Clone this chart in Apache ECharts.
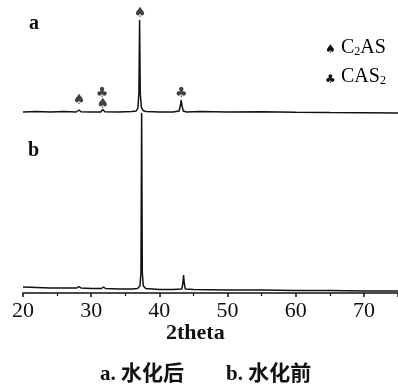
<!DOCTYPE html>
<html>
<head>
<meta charset="utf-8">
<script src="https://cdn.jsdelivr.net/npm/echarts@6/dist/echarts.min.js"></script>
<style>
html,body{margin:0;padding:0;background:#fff;}
#chart{width:398px;height:391px;}
</style>
</head>
<body>
<div id="chart"></div>
<script>
// x-axis ticks
var xTicks = [20, 30, 40, 50, 60, 70];
// Pattern a (after hydration), offset upward; [2theta, intensity]
var patternA = [
  [20,181],[22,181.5],[24,181],[26,181.5],[27.8,181],[28.2,183],[28.5,181.2],[30,181],
  [31.4,181],[31.7,183.5],[32,181.2],[34,181],[36,181.5],[36.6,182],[36.85,185],
  [37.0,200],[37.1,273],[37.2,200],[37.35,186],[37.6,182.5],[38,181.5],[40,181],
  [42,181],[42.9,182],[43.1,188],[43.2,193],[43.3,188],[43.5,182],[44,181],[46,181.5],
  [50,181],[55,181.2],[60,180.8],[65,180.5],[70,180.3],[75,180]
];
// Pattern b (before hydration)
var patternB = [
  [20,6],[22,5.5],[24,5],[26,5],[27.9,5],[28.2,6.5],[28.5,5],[30,4.5],[31.5,4.5],
  [31.8,6],[32.1,4.5],[34,4],[36,4],[36.8,4.5],[37.15,7],[37.3,20],[37.4,180],
  [37.5,20],[37.65,7],[38,4.5],[40,3.5],[42,3.5],[43.3,4],[43.45,10],[43.55,18],
  [43.65,10],[43.8,4],[45,3.5],[50,3],[55,3],[60,2.5],[65,2.5],[70,2],[75,2]
];
// Phase markers: [2theta, height, glyph]
var markers = [
  [28.2, 193, '\u2660'],
  [31.6, 200, '\u2663'],
  [31.7, 189, '\u2660'],
  [37.15, 280, '\u2660'],
  [43.2, 200, '\u2663']
];
var legendItems = [
  ['\u2660', 'C', '2', 'AS'],
  ['\u2663', 'CAS', '2', '']
];
var patternLabels = ['a', 'b'];
var xName = '2theta';
var captions = ['a. 水化后', 'b. 水化前'];

var chart = echarts.init(document.getElementById('chart'));
var serif = '"Liberation Serif","DejaVu Serif",serif';
var richLegend = {
  n: {fontSize: 20, fontFamily: serif, color: '#111', verticalAlign: 'bottom', lineHeight: 23},
  s: {fontSize: 12, fontFamily: serif, color: '#111', verticalAlign: 'bottom', lineHeight: 17}
};
chart.setOption({
  animation: false,
  grid: {left: 23, top: 0, width: 376.75, height: 293},
  xAxis: {
    type: 'value', min: 20, max: 75, interval: 10,
    axisLine: {show: true, lineStyle: {color: '#111', width: 1.5}},
    axisTick: {show: true, length: 4, inside: false, lineStyle: {color: '#111', width: 1.5}},
    minorTick: {show: true, splitNumber: 2, length: 3, lineStyle: {color: '#111', width: 1.2}},
    splitLine: {show: false},
    axisLabel: {
      margin: 7, color: '#111', fontSize: 22, fontFamily: serif, showMaxLabel: false,
      formatter: function (v) { return xTicks.indexOf(v) >= 0 ? String(v) : ''; }
    }
  },
  yAxis: {type: 'value', min: 0, max: 293, show: false},
  series: [
    {type: 'line', data: patternA, showSymbol: false, symbol: 'none',
     lineStyle: {color: '#111', width: 1.5}},
    {type: 'line', data: patternB, showSymbol: false, symbol: 'none',
     lineStyle: {color: '#111', width: 1.5}},
    {type: 'scatter', data: markers, symbolSize: 0, silent: true,
     label: {show: true, position: 'inside', color: '#111', fontSize: 14,
       fontFamily: '"DejaVu Sans"', formatter: function (p) { return p.data[2]; }}}
  ],
  graphic: [
    {type: 'text', left: 29, top: 14, style: {text: patternLabels[0], font: 'bold 20px ' + serif, fill: '#111'}},
    {type: 'text', left: 28, top: 141, style: {text: patternLabels[1], font: 'bold 20px ' + serif, fill: '#111'}},
    {type: 'text', left: 325, top: 44, style: {text: legendItems[0][0], font: '12px "DejaVu Sans"', fill: '#111'}},
    {type: 'text', left: 325, top: 74, style: {text: legendItems[1][0], font: '12px "DejaVu Sans"', fill: '#111'}},
    {type: 'text', left: 341, top: 38, style: {
      text: '{n|' + legendItems[0][1] + '}{s|' + legendItems[0][2] + '}{n|' + legendItems[0][3] + '}',
      rich: richLegend}},
    {type: 'text', left: 341, top: 67, style: {
      text: '{n|' + legendItems[1][1] + '}{s|' + legendItems[1][2] + '}',
      rich: richLegend}},
    {type: 'text', left: 166, top: 322, style: {text: xName, font: 'bold 22px ' + serif, fill: '#111'}},
    {type: 'text', left: 100, top: 364, style: {text: captions[0], font: 'bold 21px "Liberation Serif","Noto Sans CJK SC"', fill: '#111'}},
    {type: 'text', left: 226, top: 364, style: {text: captions[1], font: 'bold 21px "Liberation Serif","Noto Sans CJK SC"', fill: '#111'}}
  ]
});
</script>
</body>
</html>
